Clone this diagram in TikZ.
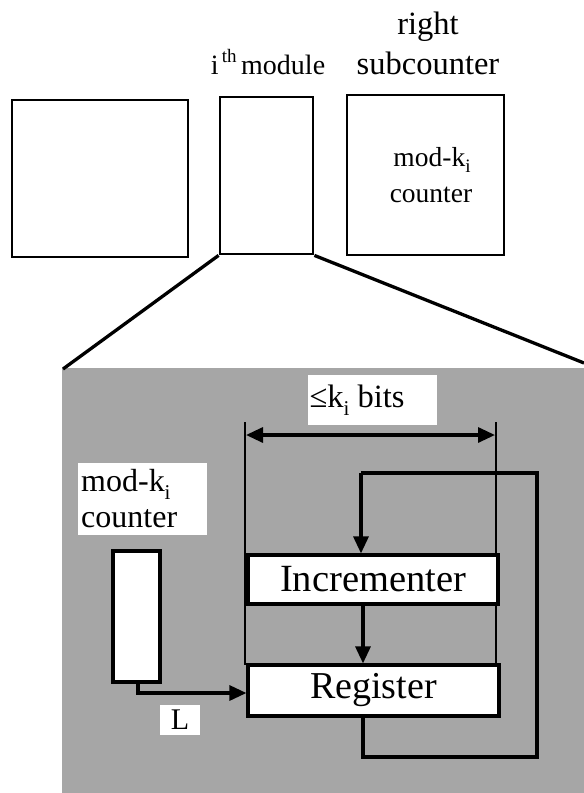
\documentclass[tikz,border=0pt]{standalone}
\usepackage{fontspec}
\setmainfont{Liberation Serif}
\usetikzlibrary{arrows.meta}
\begin{document}
\begin{tikzpicture}[x=1pt,y=-1pt,
  topbox/.style={draw,line width=2.8pt,inner sep=0pt,fill=white},
  blkbox/.style={draw,line width=3.2pt,inner sep=0pt,fill=white},
  lbl/.style={inner sep=0pt,align=center},
  wlbl/.style={fill=white,inner sep=3pt,align=left},
  conn/.style={line width=3.2pt},
  thin/.style={line width=1.4pt},
  tip/.style={-{Triangle[length=17pt,width=15pt]}}
]
\useasboundingbox (0,0) rectangle (584,793);
% top row
\node[topbox,minimum width=176pt,minimum height=157pt] (lb) at (100,178.5) {};
\node[topbox,minimum width=93pt,minimum height=157pt] (mb) at (266.5,175.5) {};
\node[topbox,minimum width=157pt,minimum height=160pt] (rb) at (425.5,175) {};
\node[lbl,font=\fontsize{32.5}{34}\selectfont] (t1) at (428,27) {right};
\node[lbl,font=\fontsize{32.5}{34}\selectfont] (t2) at (428,63) {subcounter};
\node[lbl,font=\fontsize{28}{30}\selectfont] (t3) at (268,62) {i\raisebox{0.45em}{\fontsize{19}{20}\selectfont\,th}\,module};
\node[lbl,font=\fontsize{27.5}{29}\selectfont] (t4) at (432,160) {mod-k\raisebox{-0.25em}{\fontsize{19}{20}\selectfont i}};
\node[lbl,font=\fontsize{27.5}{29}\selectfont] (t5) at (431,195) {counter};
% zoom area
\fill[black!35] (62,368) rectangle (584,793);
\coordinate (zl) at (63,369);
\coordinate (zr) at (584,363);
\draw[line width=3.3pt] (mb.south west) -- (zl);
\draw[line width=3.3pt] (mb.south east) -- (zr);
% thin guide lines
\coordinate (g1t) at (245,422);
\coordinate (g1b) at (245,665);
\coordinate (g2t) at (496,422);
\coordinate (g2b) at (496,665);
\draw[thin] (g1t) -- (g1b);
\draw[thin] (g2t) -- (g2b);
\coordinate (a1) at (246,435);
\coordinate (a2) at (495,435);
\draw[conn,{Triangle[length=17pt,width=15pt]}-{Triangle[length=17pt,width=15pt]}] (a1) -- (a2);
\node[fill=white,inner ysep=3pt,inner xsep=0pt,minimum width=129pt,minimum height=50pt] (bitsbg) at (372,400) {};
\node[inner sep=0pt,font=\fontsize{32.5}{34}\selectfont] (bits) at (357,400) {≤k\raisebox{-0.25em}{\fontsize{21}{22}\selectfont i} bits};
% blocks
\node[blkbox,minimum width=250pt,minimum height=49pt,font=\fontsize{38.5}{40}\selectfont] (inc) at (373,579.5) {Incrementer};
\node[blkbox,minimum width=251pt,minimum height=51pt,font=\fontsize{38}{40}\selectfont] (reg) at (373.5,690.5) {Register};
\draw[conn,tip] (inc.south -| 363,0) -- (reg.north -| 363,0);
% feedback loop
\coordinate (f1) at (363,757);
\coordinate (f2) at (537,757);
\coordinate (f3) at (537,473);
\coordinate (f4) at (361,473);
\draw[conn] (reg.south -| 363,0) -- (f1) -- (f2) -- (f3) -- (f4) -- (f4 |- 0,473);
\draw[conn,tip] (f4) -- (inc.north -| 361,0);
% left counter
\node[fill=white,minimum width=129pt,minimum height=72pt,inner sep=0pt] (mkbg) at (142.5,499) {};
\node[inner sep=0pt,align=left,anchor=west,font=\fontsize{32}{36}\selectfont] (mk) at (81,499) {mod-k\raisebox{-0.25em}{\fontsize{21}{22}\selectfont i}\\counter};
\node[blkbox,minimum width=47pt,minimum height=131pt] (cb) at (136.5,616.5) {};
\coordinate (c1) at (138,693);
\draw[conn,tip] (cb.south -| 138,0) -- (c1) -- (reg.west |- c1);
\node[fill=white,minimum width=40pt,minimum height=30pt,inner sep=0pt,font=\fontsize{30}{30}\selectfont] (L) at (180,720) {L};
\end{tikzpicture}
\end{document}
